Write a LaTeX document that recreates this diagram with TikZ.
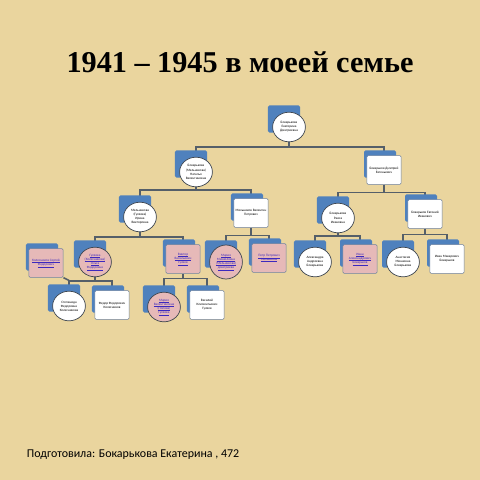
\documentclass[tikz,border=0pt]{standalone}
\usepackage{fontspec}
\setmainfont{Liberation Serif}
\newfontfamily\carlito{Carlito}
\usetikzlibrary{shapes.geometric}
\usetikzlibrary{backgrounds}

\definecolor{parchment}{RGB}{234,213,158}
\definecolor{backblue}{RGB}{79,129,189}
\definecolor{kinpink}{RGB}{230,185,184}
\definecolor{linkblue}{RGB}{60,40,190}
\definecolor{tieline}{RGB}{85,95,105}
\definecolor{boxline}{RGB}{110,130,160}
\definecolor{ovalline}{RGB}{60,68,78}

\newcommand{\nodefont}{\carlito\fontsize{2.4}{2.9}\selectfont}
\newcommand{\lnk}[1]{\leavevmode\vtop{\hbox{#1}\kern0.25pt\hrule height0.12pt}}

\tikzset{
  back/.style={fill=backblue, rounded corners=1pt, minimum width=0.8cm, minimum height=0.68cm, inner sep=0},
  box/.style={draw=boxline, line width=0.4pt, fill=white, rounded corners=1pt, minimum width=0.86cm, minimum height=0.72cm, inner sep=0.5pt, align=center, font=\nodefont},
  oval/.style={ellipse, draw=ovalline, line width=0.5pt, fill=white, minimum width=0.82cm, minimum height=0.74cm, inner sep=0, align=center, font=\nodefont},
  kin/.style={fill=kinpink, text=linkblue},
  tie/.style={draw=tieline, line width=1.1pt},
}

\begin{document}
\begin{tikzpicture}[x=0.025cm, y=-0.025cm]
\useasboundingbox (0,0) rectangle (480,480);

% title and footer
\node (title) at (240,62) {\fontsize{21.5}{26}\selectfont\bfseries 1941 – 1945 в моеей семье};
\node[anchor=west] (author) at (22,455) {\carlito\fontsize{8.5}{10}\selectfont Подготовила: Бокарькова Екатерина , 472};

% generation 0 and 1
\node[oval] (root) at (289,127) {Бокарькова\\Екатерина\\Дмитриевна};
\node[oval] (nat) at (196,172) {Бокарькова\\(Мельникова)\\Наталья\\Валентиновна};
\node[box] (dmi) at (384,170) {Бокарьков Дмитрий\\Евгеньевич};

% generation 2
\node[oval] (iri) at (140,217) {Мельникова\\(Гуляева)\\Ирина\\Викторовна};
\node[box] (val) at (251,213) {Мельников Валентин\\Петрович};
\node[oval] (rai) at (338,218) {Бокарькова\\Раиса\\Ивановна};
\node[box] (evg) at (425,214) {Бокарьков Евгений\\Иванович};

% generation 3
\node[box, kin] (ser) at (46,263) {\lnk{Колесников Сергей}\\\lnk{Федорович}};
\node[oval, kin] (olg) at (95,262) {\lnk{Гуляева}\\\lnk{(Колесникова)}\\\lnk{Ольга}\\\lnk{Федоровна}};
\node[box, kin] (vik) at (183,259) {\lnk{Виктор}\\\lnk{Васильевич}\\\lnk{Гуляев}};
\node[oval, kin, minimum height=0.85cm] (mar) at (226,262) {\lnk{Мария}\\\lnk{Михайловна}\\\lnk{(Мельникова)}\\\lnk{Дмитриева}};
\node[box, kin] (pet) at (269,258) {\lnk{Петр Петрович}\\\lnk{Мельников}};
\node[oval] (ale) at (315,262) {Александра\\Андреевна\\Бокарькова};
\node[box, kin] (iva) at (360,259) {\lnk{Иван}\\\lnk{Александрович}\\\lnk{Бокарьков}};
\node[oval] (ana) at (403,262) {Анастасия\\Минаевна\\Бокарькова};
\node[box] (ivm) at (447,259) {Иван Макарович\\Бокарьков};

% generation 4
\node[oval] (ste) at (69,306) {Степанида\\Федоровна\\Колесникова};
\node[box] (fed) at (112,305) {Федор Федорович\\Колесников};
\node[oval, kin] (mav) at (164,307) {\lnk{Мария}\\\lnk{Валентиновна}\\\lnk{(Попова)}\\\lnk{Гуляева}};
\node[box] (vas) at (207,305) {Василий\\Климентьевич\\Гуляев};

\coordinate (serjoin) at (70,281);

\begin{pgfonlayer}{background}
\fill[parchment] (0,0) rectangle (480,480);
% connectors
\draw[tie] (root.south) -- ++(0,5) -| (nat.north);
\draw[tie] (root.south) -- ++(0,5) -| (dmi.north);
\draw[tie] (nat.south) -- ++(0,3) -| (iri.north);
\draw[tie] (nat.south) -- ++(0,3) -| (val.north);
\draw[tie] (dmi.south) -- ++(0,8) -| (rai.north);
\draw[tie] (dmi.south) -- ++(0,8) -| (evg.north);
\draw[tie] (iri.south) -- ++(0,5) -| (olg.north);
\draw[tie] (iri.south) -- ++(0,5) -| (vik.north);
\draw[tie] (val.south) -- ++(0,8) -| (mar.north);
\draw[tie] (val.south) -- ++(0,8) -| (pet.north);
\draw[tie] (rai.south) -- ++(0,3) -| (ale.north);
\draw[tie] (rai.south) -- ++(0,3) -| (iva.north);
\draw[tie] (evg.south) -- ++(0,6) -| (ana.north);
\draw[tie] (evg.south) -- ++(0,6) -| (ivm.north);
\draw[tie] (olg.south) -- ++(0,4) -| (ste.north);
\draw[tie] (olg.south) -- ++(0,4) -| (fed.north);
\draw[tie] (vik.south) -- ++(0,5) -| (mav.north);
\draw[tie] (vik.south) -- ++(0,5) -| (vas.north);
\draw[tie] (ser.south east) -- (serjoin);
% blue cards behind
\foreach \n in {root,nat,iri,rai,olg,mar,ale,ana,ste,mav}
  \node[back] at ([shift={(-5,-8)}]\n.center) {};
\foreach \n in {dmi,val,evg,ser,vik,pet,iva,ivm,fed,vas}
  \node[back] at ([shift={(-4,-6)}]\n.center) {};
\end{pgfonlayer}

\end{tikzpicture}
\end{document}
